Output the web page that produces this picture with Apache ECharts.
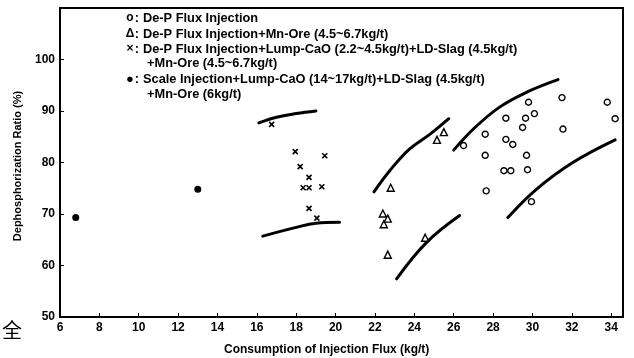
<!DOCTYPE html>
<html>
<head>
<meta charset="utf-8">
<script src="https://cdn.jsdelivr.net/npm/echarts@6/dist/echarts.min.js"></script>
<style>html,body{margin:0;padding:0;background:#fff;}#c{width:634px;height:358px;}</style>
</head>
<body>
<div id="c"></div>
<script>
// ---- data ----
const dePFlux = [[29.8,91.7],[31.5,92.6],[33.8,91.7],[30.1,89.5],[29.65,88.6],[28.65,88.6],[34.2,88.5],[29.5,86.8],[31.55,86.5],[27.6,85.5],[28.65,84.5],[29.0,83.5],[26.5,83.3],[27.6,81.4],[29.7,81.4],[28.55,78.4],[28.9,78.4],[29.75,78.6],[27.65,74.5],[29.95,72.4]];
const dePMnOre = [[25.5,85.9],[25.15,84.4],[22.8,75.1],[22.4,70.1],[22.65,69.1],[22.45,68.0],[24.55,65.4],[22.65,62.1]];
const dePLumpCaO = [[16.75,87.4],[17.95,82.1],[19.45,81.3],[18.2,79.2],[18.65,77.1],[18.35,75.1],[18.65,75.1],[19.3,75.3],[18.65,71.1],[19.05,69.2]];
const scaleInj = [[6.8,69.3],[13.0,74.8]];
// boundary curves
const crossUpper = [[16.1,87.7],[17.0,88.8],[18.0,89.5],[19.0,90.0]];
const crossLower = [[16.3,65.7],[18.0,67.4],[19.0,68.2],[20.2,68.4]];
const triUpper = [[21.95,74.3],[22.75,78.4],[23.75,82.6],[24.8,85.5],[25.75,88.5]];
const triLower = [[23.1,57.4],[24.6,64.4],[26.3,69.7]];
const circUpper = [[26.0,82.4],[27.0,86.5],[28.35,90.8],[29.85,93.9],[31.3,96.1]];
const circLower = [[28.75,69.3],[30.2,74.8],[32.05,80.0],[34.2,84.4]];
const legendSymbols = ['o', '\u0394', '\u00D7', '', '\u25CF', ''];
const legendTexts = [
  'De-P Flux Injection',
  'De-P Flux Injection+Mn-Ore (4.5~6.7kg/t)',
  'De-P Flux Injection+Lump-CaO (2.2~4.5kg/t)+LD-Slag (4.5kg/t)',
  '+Mn-Ore (4.5~6.7kg/t)',
  'Scale Injection+Lump-CaO (14~17kg/t)+LD-Slag (4.5kg/t)',
  '+Mn-Ore (6kg/t)'
];
const xName = 'Consumption of Injection Flux (kg/t)';
const yName = 'Dephosphorization Ratio (%)';

const FONT = 'Liberation Sans, Arial, sans-serif';
const chart = echarts.init(document.getElementById('c'), null, {renderer:'canvas'});

function curve(d){
  return {type:'line', data:d, smooth:0.4, symbol:'none', silent:true,
    lineStyle:{color:'#000', width:3, cap:'round'}, z:3};
}
const legendY = [18, 34, 49, 63, 79, 94];
const graphics = [];
legendTexts.forEach((t,i)=>{
  const s = legendSymbols[i];
  if(s){
    graphics.push({type:'text', x:130, y:legendY[i], style:{text:s, font:(s==='\u25CF'?'13px ':'bold 12px ')+FONT, fill:'#000', align:'center', verticalAlign:'middle'}});
    graphics.push({type:'text', x:137, y:legendY[i], style:{text:':', font:'bold 12.8px '+FONT, fill:'#000', align:'center', verticalAlign:'middle'}});
  }
  graphics.push({type:'text', x: s?143:147, y:legendY[i], style:{text:t, font:'bold 12.8px '+FONT, fill:'#000', verticalAlign:'middle'}});
});
graphics.push({type:'text', left:224, top:344, style:{text:xName, font:'bold 12px '+FONT, fill:'#000'}});
graphics.push({type:'text', x:18, y:166, rotation:Math.PI/2, style:{text:yName, font:'bold 11px '+FONT, fill:'#000', align:'center', verticalAlign:'middle'}});
graphics.push({type:'text', left:2, top:320, style:{text:'全', font:'20px "Noto Sans CJK SC"', fill:'#000'}});

chart.setOption({
  animation:false,
  backgroundColor:'#fff',
  grid:{left:60, right:11, top:8, bottom:41, show:true, borderColor:'#000', borderWidth:2},
  xAxis:{type:'value', min:6, max:34.6, interval:2,
    axisLine:{lineStyle:{color:'#000', width:2}},
    axisTick:{inside:true, length:4, lineStyle:{color:'#000', width:1}},
    axisLabel:{color:'#000', fontSize:12, fontWeight:'bold', fontFamily:FONT, margin:5, showMaxLabel:false,
      formatter:v=> (Math.abs(v%2)<1e-9 ? String(v) : '')},
    splitLine:{show:false}},
  yAxis:{type:'value', min:50, max:110, interval:10,
    axisLine:{show:true, lineStyle:{color:'#000', width:2}},
    axisTick:{show:true, inside:true, length:4, lineStyle:{color:'#000', width:1}},
    axisLabel:{color:'#000', fontSize:12, fontWeight:'bold', fontFamily:FONT, margin:5,
      formatter:v=> (v<=100 ? String(v) : '')},
    splitLine:{show:false}},
  graphic:graphics,
  series:[
    curve(crossUpper), curve(crossLower), curve(triUpper), curve(triLower), curve(circUpper), curve(circLower),
    {type:'scatter', data:dePFlux, symbol:'circle', symbolSize:6, z:4,
      itemStyle:{color:'#fff', borderColor:'#000', borderWidth:1.4, opacity:1}},
    {type:'scatter', data:dePMnOre, symbol:'triangle', symbolSize:7, z:4,
      itemStyle:{color:'#fff', borderColor:'#000', borderWidth:1.4, opacity:1}},
    {type:'scatter', data:dePLumpCaO, symbol:'path://M0,0L10,10M10,0L0,10', symbolSize:5, z:4,
      itemStyle:{color:'rgba(0,0,0,0)', borderColor:'#000', borderWidth:1.6, opacity:1}},
    {type:'scatter', data:scaleInj, symbol:'circle', symbolSize:7, z:4,
      itemStyle:{color:'#000', opacity:1}}
  ]
});
</script>
</body>
</html>
